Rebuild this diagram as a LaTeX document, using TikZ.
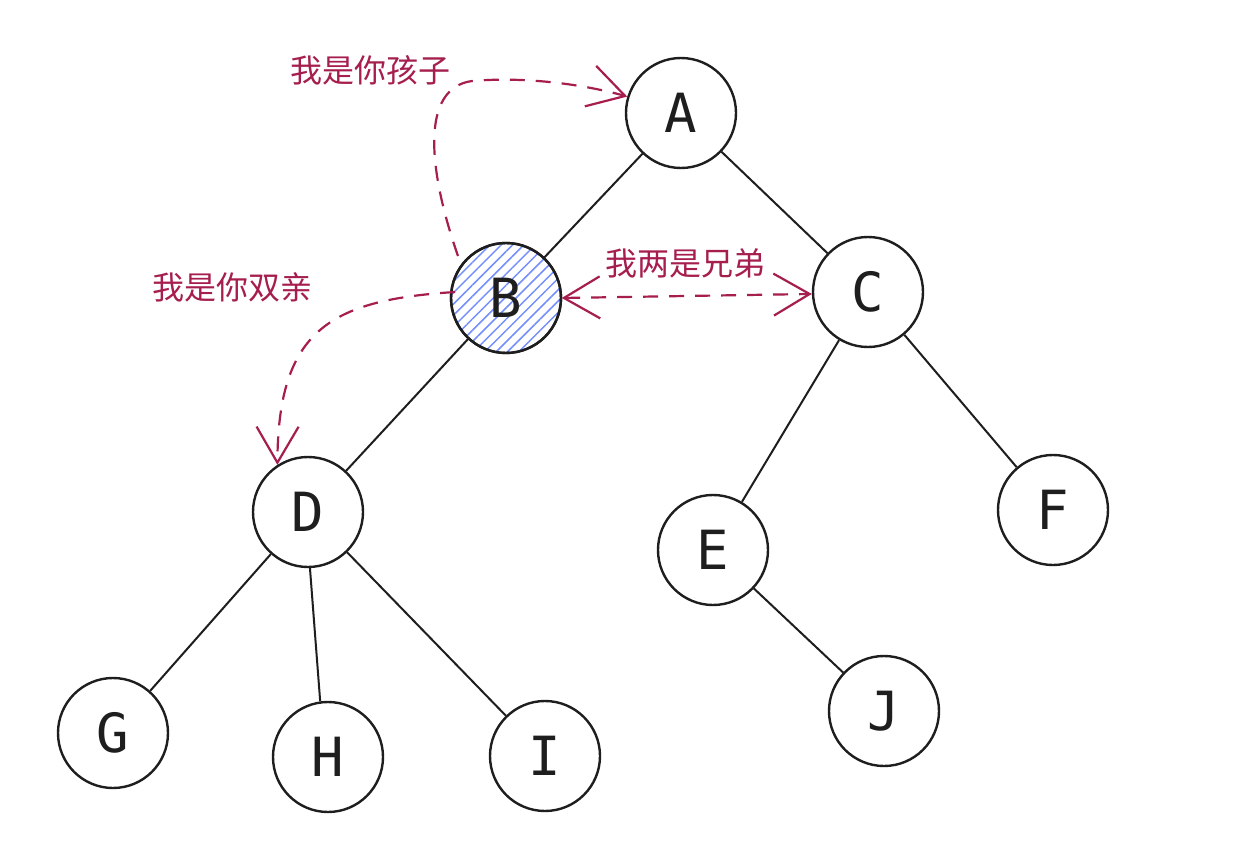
\documentclass[tikz,border=0pt]{standalone}
\usepackage{fontspec}
\setmonofont{DejaVu Sans Mono}
\newfontfamily\cjk{Noto Sans CJK SC}
\usetikzlibrary{arrows.meta,patterns.meta}
\definecolor{ink}{HTML}{1E1E1E}
\definecolor{rel}{HTML}{A61E4D}
\definecolor{hatch}{HTML}{748FFC}
\tikzset{
  circ/.style={circle, draw=ink, line width=2.4pt, minimum size=110pt, inner sep=0pt,
    font=\ttfamily\fontsize{54}{60}\selectfont, text=ink},
  edge/.style={draw=ink, line width=2pt},
  barb/.tip={Straight Barb[length=36pt,width=42pt,line width=2.2pt]},
  relarrow/.style={draw=rel, line width=2.2pt, dash pattern=on 15pt off 11pt, -barb},
  rellabel/.style={text=rel, font=\cjk\fontsize{32}{36}\selectfont, inner sep=0pt},
}
\begin{document}
\begin{tikzpicture}[x=1pt,y=-1pt]
\useasboundingbox (0,0) rectangle (1243,848);
\fill[white] (0,0) rectangle (1243,848);
% nodes
\node[circ, pattern={Lines[angle=45,distance=8pt,line width=1.5pt]}, pattern color=hatch] (B) at (506,298) {};
\node[circ] (A) at (681,113) {A};
\node[circ] (Bl) at (506,298) {B};
\node[circ] (C) at (868,292) {C};
\node[circ] (D) at (308,512) {D};
\node[circ] (E) at (713,550) {E};
\node[circ] (F) at (1053,510) {F};
\node[circ] (G) at (113,733) {G};
\node[circ] (H) at (328,757) {H};
\node[circ] (I) at (545,756) {I};
\node[circ] (J) at (884,711) {J};
% edges
\draw[edge] (A) -- (B);
\draw[edge] (A) -- (C);
\draw[edge] (B) -- (D);
\draw[edge] (C) -- (E);
\draw[edge] (C) -- (F);
\draw[edge] (D) -- (G);
\draw[edge] (D.272) -- (H.98);
\draw[edge] (D) -- (I);
\draw[edge] (E) -- (J);
% relation arrows
\coordinate (bs1) at (458,256);
\coordinate (bs2) at (455,292);
\coordinate (k1) at (472,81);
\draw[relarrow] (bs1) .. controls (428,170) and (420,88) .. (k1) .. controls (530,76) and (590,86) .. (A.163);
\draw[relarrow] (bs2) .. controls (330,300) and (278,330) .. (D.123);
\draw[relarrow, barb-barb] (B.east) -- (C.182);
% labels
\node[rellabel] (l1) at (370,70) {我是你孩子};
\node[rellabel] (l2) at (232,287) {我是你双亲};
\node[rellabel] (l3) at (685,263) {我两是兄弟};
\end{tikzpicture}
\end{document}
